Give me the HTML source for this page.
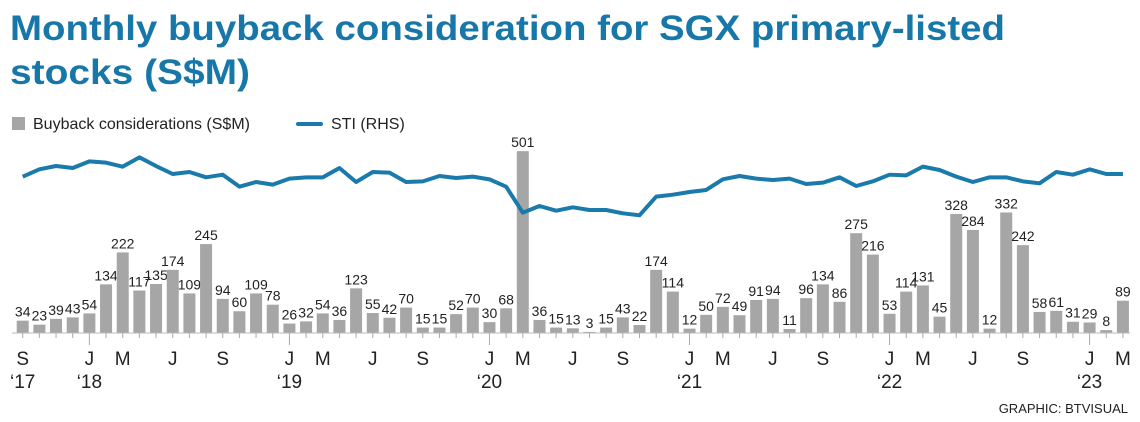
<!DOCTYPE html>
<html><head><meta charset="utf-8"><style>
body{margin:0;background:#fff}
svg{display:block;font-family:"Liberation Sans",sans-serif}
</style></head><body>
<svg id="c" width="1140" height="422" viewBox="0 0 1140 422">
<text x="10" y="40" font-size="35" font-weight="bold" fill="#1877a9" textLength="995" lengthAdjust="spacingAndGlyphs">Monthly buyback consideration for SGX primary-listed</text>
<text x="10" y="84" font-size="35" font-weight="bold" fill="#1877a9" textLength="240" lengthAdjust="spacingAndGlyphs">stocks (S$M)</text>
<g>
<rect x="12" y="117" width="13" height="13" fill="#a6a6a6"/>
<text x="33" y="129" font-size="16" fill="#222">Buyback considerations (S$M)</text>
<line x1="298" y1="124" x2="321" y2="124" stroke="#1a7aab" stroke-width="4" stroke-linecap="round"/>
<text x="331" y="129" font-size="16" fill="#222">STI (RHS)</text>
</g>
<g id="bars"></g><g id="line"></g><g id="axis"></g>
<text x="1128" y="413" font-size="13" fill="#222" text-anchor="end">GRAPHIC: BTVISUAL</text>
</svg>
<script>
const buyback=[34,23,39,43,54,134,222,117,135,174,109,245,94,60,109,78,26,32,54,36,123,55,42,70,15,15,52,70,30,68,501,36,15,13,3,15,43,22,174,114,12,50,72,49,91,94,11,96,134,86,275,216,53,114,131,45,328,284,12,332,242,58,61,31,29,8,89];
const sti=[3235,3373,3436,3398,3524,3499,3424,3600,3436,3285,3323,3222,3272,3046,3134,3084,3197,3222,3222,3398,3134,3323,3310,3134,3146,3247,3209,3235,3184,3046,2554,2680,2592,2655,2605,2605,2542,2504,2857,2894,2945,2983,3184,3247,3197,3172,3197,3096,3121,3222,3058,3146,3272,3260,3424,3361,3235,3134,3222,3222,3146,3109,3323,3272,3373,3285,3285];
const monthLabels={0:"S",4:"J",6:"M",9:"J",12:"S",16:"J",18:"M",21:"J",24:"S",28:"J",30:"M",33:"J",36:"S",40:"J",42:"M",45:"J",48:"S",52:"J",54:"M",57:"J",60:"S",64:"J",66:"M"};
const yearLabels={0:"‘17",4:"‘18",16:"‘19",28:"‘20",40:"‘21",52:"‘22",64:"‘23"};
const NS="http://www.w3.org/2000/svg";
const base=333, x0=22.7, step=16.67;
const xb=i=>x0+i*step;
const yb=v=>base-v*0.363;
const xl=i=>xb(i);
const yl=v=>140+(52+(3600-v)/6.3)/3;
function mk(t,a,p){const e=document.createElementNS(NS,t);for(const k in a)e.setAttribute(k,a[k]);p.appendChild(e);return e;}
const gb=document.getElementById('bars');
buyback.forEach((v,i)=>{
 const r=mk('rect',{x:xb(i)-6,y:yb(v),width:12,height:base-yb(v),fill:'#a6a6a6'},gb);
 
 
 const t=mk('text',{x:xb(i),y:yb(v)-4,'font-size':14,'text-anchor':'middle',fill:'#222'},gb);
 t.textContent=v;
 
 
});
const gl=document.getElementById('line');
const p=mk('polyline',{points:sti.map((v,i)=>xl(i)+','+yl(v)).join(' '),fill:'none',stroke:'#1a7aab','stroke-width':4,'stroke-linejoin':'round'},gl);


const ga=document.getElementById('axis');
const bl=mk('line',{x1:12,y1:base,x2:1130,y2:base,stroke:'#bbb','stroke-width':1},ga);


buyback.forEach((v,i)=>{
 const major=yearLabels[i]!==undefined&&i>0;
 const tk=mk('line',{x1:xb(i),y1:base,x2:xb(i),y2:base+(major?12:5),stroke:'#aaa','stroke-width':1},ga);
 
 
 if(monthLabels[i]){const t=mk('text',{x:xb(i),y:365,'font-size':19,'text-anchor':'middle',fill:'#222'},ga);t.textContent=monthLabels[i];
 
 }
 if(yearLabels[i]){const t=mk('text',{x:xb(i),y:388,'font-size':19,'text-anchor':'middle',fill:'#222'},ga);t.textContent=yearLabels[i];
 
 }
});
</script>
</body></html>
